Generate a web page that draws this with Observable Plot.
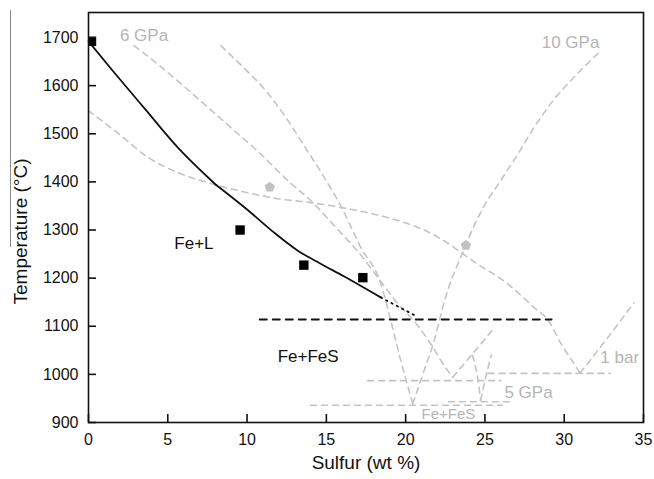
<!DOCTYPE html>
<html>
<head>
<meta charset="utf-8">
<script src="https://cdn.jsdelivr.net/npm/d3@7"></script>
<script src="https://cdn.jsdelivr.net/npm/@observablehq/plot@0.6"></script>
<style>
  body { margin: 0; background: #fff; }
  #chart { position: relative; width: 654px; height: 479px; }
  #chart svg { font-family: "Liberation Sans", Arial, sans-serif; }
  .margin-rule { position: absolute; left: 10px; top: 10px; height: 237px; border-left: 1.5px solid #8c8c8c; }
</style>
</head>
<body>
<div id="chart"><div class="margin-rule"></div></div>
<script>
// Axis ticks
const sulfurTicks = [0, 5, 10, 15, 20, 25, 30, 35];
const tempTicks = [900, 1000, 1100, 1200, 1300, 1400, 1500, 1600, 1700];

// Measured Fe–S liquidus (this work): [S wt%, T °C]
const liquidusHigh = [[0, 1692], [1.5, 1632], [3.6, 1550], [5.64, 1471], [8.03, 1394]];
const liquidusLow = [[8.03, 1394], [10.24, 1336], [11.69, 1295], [13.2, 1257], [14.64, 1230],
  [16.1, 1204], [18.43, 1160]];
const liquidusExtrapolated = [[18.43, 1160], [20.73, 1120]];
const eutecticThisWork = [[10.8, 1114], [29.2, 1114]];
const experiments = [[0.19, 1692], [9.56, 1300], [13.58, 1227], [17.3, 1201]];

// Reference phase diagrams
const bar1Liquidus = [[0, 1548], [2.05, 1496], [3.75, 1451], [5.83, 1417], [7.9, 1395], [10.24, 1376],
  [11.95, 1365], [14.02, 1357], [15.9, 1347], [17.6, 1336], [19.5, 1320], [21.6, 1293], [22.2, 1282],
  [24.5, 1230], [26.4, 1189], [28.1, 1139], [29.0, 1112], [29.8, 1064], [30.6, 1023], [31.0, 1003]];
const bar1FeS = [[31.0, 1003], [32.6, 1070], [34.4, 1149]];
const bar1Eutectic = [[25.2, 1002], [32.9, 1002]];

const gpa5Liquidus = [[24.2, 1040], [24.54, 994], [24.73, 946]];
const gpa5FeS = [[24.73, 946], [25.05, 994], [25.4, 1040]];
const gpa5Eutectic = [[22.7, 943], [26.8, 943]];

const gpa6Liquidus = [[2.87, 1683], [3.94, 1656], [5.83, 1604], [7.53, 1555], [9.42, 1500], [10.43, 1471],
  [12.76, 1397], [14.02, 1361], [15.47, 1310], [17.17, 1248], [18.62, 1185], [19.5, 1147], [20.5, 1112],
  [21.45, 1070], [22.52, 1014], [22.97, 994]];
const gpa6FeS = [[22.97, 994], [24.2, 1042], [25.55, 1095]];
const gpa6Eutectic = [[17.6, 987], [26.0, 987]];

const gpa10Liquidus = [[8.35, 1683], [9.7, 1640], [11.06, 1594], [12.4, 1536], [13.58, 1476], [14.8, 1413],
  [15.9, 1351], [17.17, 1264], [18.43, 1189], [19.06, 1112], [19.69, 1029], [20.45, 939]];
const gpa10FeS = [[20.45, 939], [21.1, 1002], [21.8, 1070], [22.4, 1147], [22.8, 1189], [23.3, 1230],
  [23.8, 1268], [24.1, 1293], [24.9, 1347], [26.0, 1403], [27.1, 1459], [28.1, 1513], [29.3, 1569],
  [30.6, 1617], [32.2, 1669]];
const gpa10Eutectic = [[14.0, 936], [26.1, 936]];

const referencePoints = [[11.43, 1389], [23.8, 1268]];

// Annotations
const pressureLabels = [
  {text: "6 GPa", s: 3.5, t: 1704},
  {text: "10 GPa", s: 30.4, t: 1690},
  {text: "1 bar", s: 33.5, t: 1035},
  {text: "5 GPa", s: 27.75, t: 962}
];
const fieldLabels = [
  {text: "Fe+L", s: 6.65, t: 1272},
  {text: "Fe+FeS", s: 13.85, t: 1037}
];
const refFieldLabels = [{text: "Fe+FeS", s: 22.7, t: 917}];

const grey = "#c4c4c4";
const greyText = "#b5b5b5";

const greySeries = [bar1Liquidus, bar1FeS, bar1Eutectic, gpa5Liquidus, gpa5FeS, gpa5Eutectic,
  gpa6Liquidus, gpa6FeS, gpa6Eutectic, gpa10Liquidus, gpa10FeS, gpa10Eutectic];

// Pentagon symbol for the reference points
const pentagon = {
  draw(context, size) {
    const r = Math.sqrt(size / Math.PI) * 1.05;
    for (let i = 0; i < 5; ++i) {
      const a = -Math.PI / 2 + i * 2 * Math.PI / 5;
      const px = r * Math.cos(a), py = r * Math.sin(a);
      if (i === 0) context.moveTo(px, py); else context.lineTo(px, py);
    }
    context.closePath();
  }
};

const innerW = 654 - 88 - 11;
const innerH = 479 - 12 - 57;

const chart = Plot.plot({
  width: 654,
  height: 479,
  marginLeft: 88,
  marginRight: 11,
  marginTop: 12,
  marginBottom: 57,
  style: {fontSize: "16px", fontFamily: "'Liberation Sans', Arial, sans-serif", color: "#111"},
  x: {domain: [0, 35]},
  y: {domain: [900, 1752]},
  marks: [
    ...greySeries.map(series => Plot.line(series, {
      x: d => d[0], y: d => d[1], stroke: grey, strokeWidth: 1.6, strokeDasharray: "6,5", curve: "monotone-x"
    })),
    Plot.dot(referencePoints, {x: d => d[0], y: d => d[1], symbol: pentagon, r: 5.2, fill: "#c2c2c2", stroke: "none"}),
    Plot.text(pressureLabels, {x: "s", y: "t", text: "text", fill: greyText, fontSize: 17}),
    Plot.text(refFieldLabels, {x: "s", y: "t", text: "text", fill: greyText, fontSize: 15}),

    Plot.line(eutecticThisWork, {x: d => d[0], y: d => d[1], stroke: "#111", strokeWidth: 2, strokeDasharray: "7,6"}),
    Plot.line(liquidusExtrapolated, {x: d => d[0], y: d => d[1], stroke: "#111", strokeWidth: 1.8, strokeDasharray: "1.5,4.5"}),
    Plot.line(liquidusHigh, {x: d => d[0], y: d => d[1], stroke: "#111", strokeWidth: 1.8, curve: "monotone-x"}),
    Plot.line(liquidusLow, {x: d => d[0], y: d => d[1], stroke: "#111", strokeWidth: 1.8, curve: "monotone-x"}),
    Plot.dot(experiments, {x: d => d[0], y: d => d[1], symbol: "square", r: 5.3, fill: "#000", stroke: "none", clip: true}),
    Plot.text(fieldLabels, {x: "s", y: "t", text: "text", fill: "#111", fontSize: 17}),

    Plot.frame({stroke: "#111", strokeWidth: 1.6}),
    Plot.tickX(sulfurTicks, {x: d => d, insetTop: innerH - 8, stroke: "#111", strokeWidth: 1.6}),
    Plot.tickY(tempTicks, {y: d => d, insetRight: innerW - 8, stroke: "#111", strokeWidth: 1.6}),
    Plot.axisX({ticks: sulfurTicks, tickSize: 0, tickPadding: 11, label: null, fontSize: 16, tickFormat: d => String(d)}),
    Plot.axisY({ticks: tempTicks, tickSize: 0, tickPadding: 10, label: null, fontSize: 16, tickFormat: d => String(d)}),
    Plot.text(["Sulfur (wt %)"], {frameAnchor: "bottom", dy: 46, fontSize: 19, fill: "#111"}),
    Plot.text(["Temperature (°C)"], {frameAnchor: "left", textAnchor: "middle", dx: -68, dy: 14, rotate: -90, fontSize: 19, fill: "#111"})
  ]
});

document.getElementById("chart").appendChild(chart);
</script>
</body>
</html>
